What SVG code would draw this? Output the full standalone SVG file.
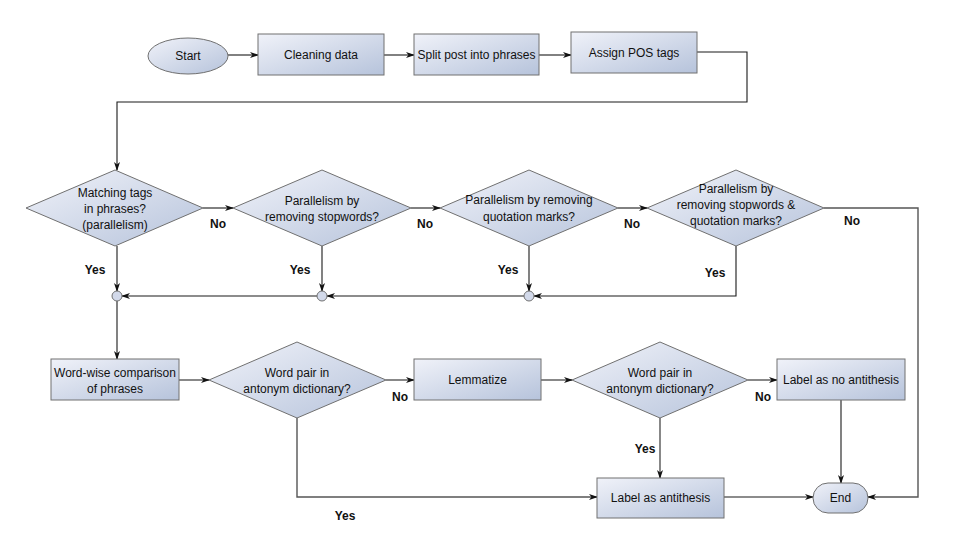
<svg xmlns="http://www.w3.org/2000/svg" width="959" height="544" viewBox="0 0 959 544">
<defs>
<linearGradient id="g" x1="0" y1="0" x2="1" y2="1">
<stop offset="0" stop-color="#f0f2f9"/>
<stop offset="1" stop-color="#b6c3db"/>
</linearGradient>
<marker id="a" markerWidth="9" markerHeight="7" refX="8" refY="3.5" orient="auto" markerUnits="userSpaceOnUse">
<path d="M0,0.5 L9,3.5 L0,6.5 L2.5,3.5 z" fill="#111"/>
</marker>
<style>
.n{fill:url(#g);stroke:#707070;stroke-width:1}
.c{fill:#d2d9ea;stroke:#707070;stroke-width:1}
.t{font-family:"Liberation Sans",Arial,sans-serif;font-size:12px;fill:#111;text-anchor:middle}
.l{font-family:"Liberation Sans",Arial,sans-serif;font-size:12px;font-weight:bold;fill:#111;text-anchor:middle}
.e{fill:none;stroke:#1a1a1a;stroke-width:1.1}
.e2{fill:none;stroke:#555;stroke-width:1.4}
</style>
</defs>
<rect width="959" height="544" fill="#fff"/>

<g id="connectors">
<path class="e" d="M228,55 L258,55" marker-end="url(#a)"/>
<path class="e" d="M384,55 L414,55" marker-end="url(#a)"/>
<path class="e" d="M539,55 L571,55" marker-end="url(#a)"/>
<path class="e" d="M697,52 L747,52 L747,102 L117,102 L117,170" marker-end="url(#a)"/>
<path class="e" d="M203,208 L233,208" marker-end="url(#a)"/>
<path class="e" d="M411,208 L440,208" marker-end="url(#a)"/>
<path class="e" d="M618,208 L647,208" marker-end="url(#a)"/>
<path class="e" d="M117,246 L117,291" marker-end="url(#a)"/>
<path class="e" d="M322,246 L322,291" marker-end="url(#a)"/>
<path class="e" d="M529,246 L529,291" marker-end="url(#a)"/>
<path class="e" d="M736,246 L736,296 L534,296" marker-end="url(#a)"/>
<path class="e" d="M524,296 L327,296" marker-end="url(#a)"/>
<path class="e" d="M317,296 L122,296" marker-end="url(#a)"/>
<path class="e" d="M117,301 L117,359" marker-end="url(#a)"/>
<path class="e2" d="M824,208 L918,208 L918,497 L868,497" marker-end="url(#a)"/>
<path class="e2" d="M179,380 L209,380" marker-end="url(#a)"/>
<path class="e2" d="M386,380 L414,380" marker-end="url(#a)"/>
<path class="e2" d="M541,380 L572,380" marker-end="url(#a)"/>
<path class="e2" d="M748,380 L777,380" marker-end="url(#a)"/>
<path class="e2" d="M660,418 L660,478" marker-end="url(#a)"/>
<path class="e2" d="M297,418 L297,497 L597,497" marker-end="url(#a)"/>
<path class="e" d="M724,497 L813,497" marker-end="url(#a)"/>
<path class="e" d="M841,400 L841,483" marker-end="url(#a)"/>
</g>

<g id="start"><ellipse class="n" cx="188" cy="56" rx="40" ry="18"/><text class="t" x="188" y="60">Start</text></g>
<g id="cleaning"><rect class="n" x="258" y="34" width="126" height="41"/><text class="t" x="321" y="59">Cleaning data</text></g>
<g id="split"><rect class="n" x="414" y="34" width="125" height="41"/><text class="t" x="476.5" y="59">Split post into phrases</text></g>
<g id="assign"><rect class="n" x="571" y="32" width="126" height="41"/><text class="t" x="634" y="57">Assign POS tags</text></g>

<g id="d1"><polygon class="n" points="26,208 115,170 203,208 115,246"/>
<text class="t" x="115" y="197">Matching tags</text><text class="t" x="115" y="213">in phrases?</text><text class="t" x="115" y="229">(parallelism)</text></g>
<g id="d2"><polygon class="n" points="233,208 322,170 411,208 322,246"/>
<text class="t" x="322" y="205">Parallelism by</text><text class="t" x="322" y="221">removing stopwords?</text></g>
<g id="d3"><polygon class="n" points="440,208 529,170 618,208 529,246"/>
<text class="t" x="529" y="204">Parallelism by removing</text><text class="t" x="529" y="221">quotation marks?</text></g>
<g id="d4"><polygon class="n" points="647,208 736,170 824,208 736,246"/>
<text class="t" x="736" y="193">Parallelism by</text><text class="t" x="736" y="209">removing stopwords &amp;</text><text class="t" x="736" y="225">quotation marks?</text></g>

<g id="j1"><circle class="c" cx="117" cy="296" r="5"/></g>
<g id="j2"><circle class="c" cx="322" cy="296" r="5"/></g>
<g id="j3"><circle class="c" cx="529" cy="296" r="5"/></g>

<g id="wordwise"><rect class="n" x="51" y="359" width="128" height="41"/>
<text class="t" x="115" y="377">Word-wise comparison</text><text class="t" x="115" y="393">of phrases</text></g>
<g id="d5"><polygon class="n" points="209,380 297,342 386,380 297,418"/>
<text class="t" x="297" y="377">Word pair in</text><text class="t" x="297" y="393">antonym dictionary?</text></g>
<g id="lemmatize"><rect class="n" x="414" y="359" width="127" height="41"/><text class="t" x="477.5" y="384">Lemmatize</text></g>
<g id="d6"><polygon class="n" points="572,380 660,342 748,380 660,418"/>
<text class="t" x="660" y="377">Word pair in</text><text class="t" x="660" y="393">antonym dictionary?</text></g>
<g id="noanti"><rect class="n" x="777" y="359" width="128" height="41"/><text class="t" x="841" y="384">Label as no antithesis</text></g>
<g id="anti"><rect class="n" x="597" y="478" width="127" height="40"/><text class="t" x="660.5" y="502">Label as antithesis</text></g>
<g id="end"><rect class="n" x="813" y="483" width="55" height="30" rx="15" ry="15"/><text class="t" x="840.5" y="502">End</text></g>

<g id="labels">
<text class="l" x="218" y="228">No</text>
<text class="l" x="425" y="228">No</text>
<text class="l" x="632" y="228">No</text>
<text class="l" x="852" y="225">No</text>
<text class="l" x="95" y="274">Yes</text>
<text class="l" x="300" y="274">Yes</text>
<text class="l" x="508" y="274">Yes</text>
<text class="l" x="715" y="277">Yes</text>
<text class="l" x="400" y="401">No</text>
<text class="l" x="763" y="401">No</text>
<text class="l" x="645" y="453">Yes</text>
<text class="l" x="345" y="520">Yes</text>
</g>
</svg>
